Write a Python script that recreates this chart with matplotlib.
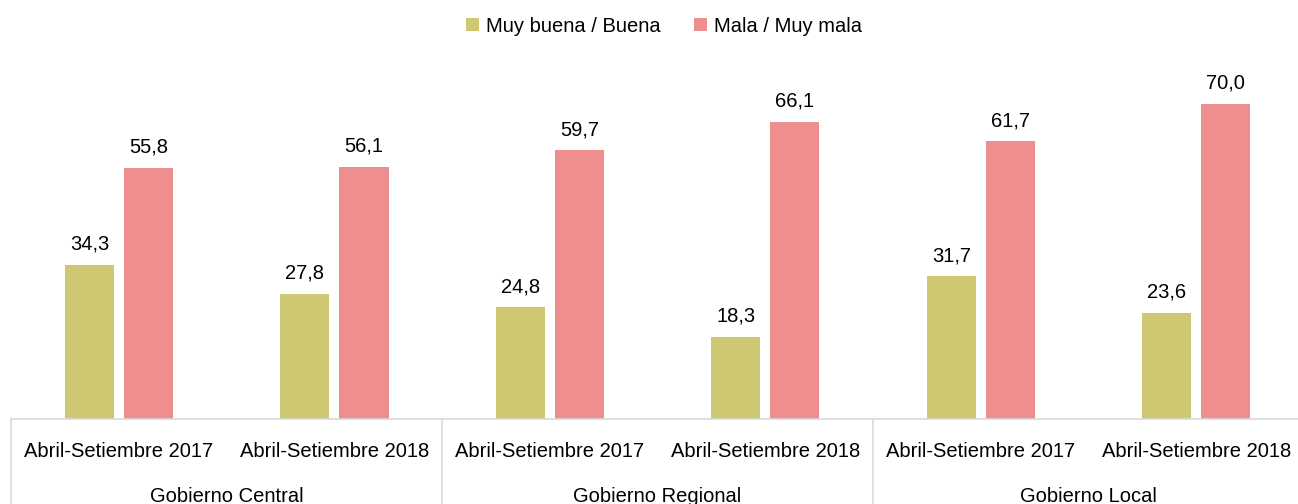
import matplotlib
matplotlib.use("Agg")
import matplotlib.pyplot as plt
import numpy as np

plt.rcParams['font.family'] = ['Liberation Sans', 'DejaVu Sans']

groups = ["Gobierno Central", "Gobierno Regional", "Gobierno Local"]
periods = ["Abril-Setiembre 2017", "Abril-Setiembre 2018"]
buena = [34.3, 27.8, 24.8, 18.3, 31.7, 23.6]
mala = [55.8, 56.1, 59.7, 66.1, 61.7, 70.0]
series_names = ["Muy buena / Buena", "Mala / Muy mala"]
colors = ["#CEC873", "#EE8E8E"]

fs = 14.5

fig = plt.figure(figsize=(12.98, 5.04), dpi=100)
ax = fig.add_axes([11.25/1298, (504-419)/504, 1292.75/1298, (419-59)/504])

n = len(buena)
x = np.arange(n)
w = 0.228
off = 0.137
b1 = ax.bar(x - off, buena, w, color=colors[0], label=series_names[0])
b2 = ax.bar(x + off, mala, w, color=colors[1], label=series_names[1])

for bars, vals in ((b1, buena), (b2, mala)):
    for r, v in zip(bars, vals):
        ax.annotate(f"{v:.1f}".replace(".", ","), (r.get_x() + r.get_width()/2, v),
                    xytext=(0, 8), textcoords="offset points",
                    ha="center", va="bottom", fontsize=fs)

ax.set_xlim(-0.5, n - 0.5)
ax.set_ylim(0, 80)
ax.set_yticks([])
ax.set_xticks([])
for s in ["top", "right", "left"]:
    ax.spines[s].set_visible(False)
ax.spines["bottom"].set_color("#D9D9D9")
ax.spines["bottom"].set_linewidth(1.2)

trans = ax.get_xaxis_transform()
for i in range(n):
    ax.text(i, -0.089, periods[i % 2], transform=trans, ha="center", va="center", fontsize=fs)
for g, name in enumerate(groups):
    ax.text(2*g + 0.5, -0.215, name, transform=trans, ha="center", va="center", fontsize=fs)
for b in [-0.5, 1.5, 3.5, 5.5]:
    ax.plot([b, b], [0, -0.3], transform=trans, color="#D9D9D9", lw=1.2, clip_on=False)

fig.legend(handles=[b1, b2], labels=series_names, loc="center",
           bbox_to_anchor=(664/1298, 1 - 26/504),
           ncol=2, frameon=False, fontsize=fs, handlelength=0.65, handleheight=0.65,
           handletextpad=0.35, columnspacing=1.64)

fig.savefig("out.png", dpi=100)
